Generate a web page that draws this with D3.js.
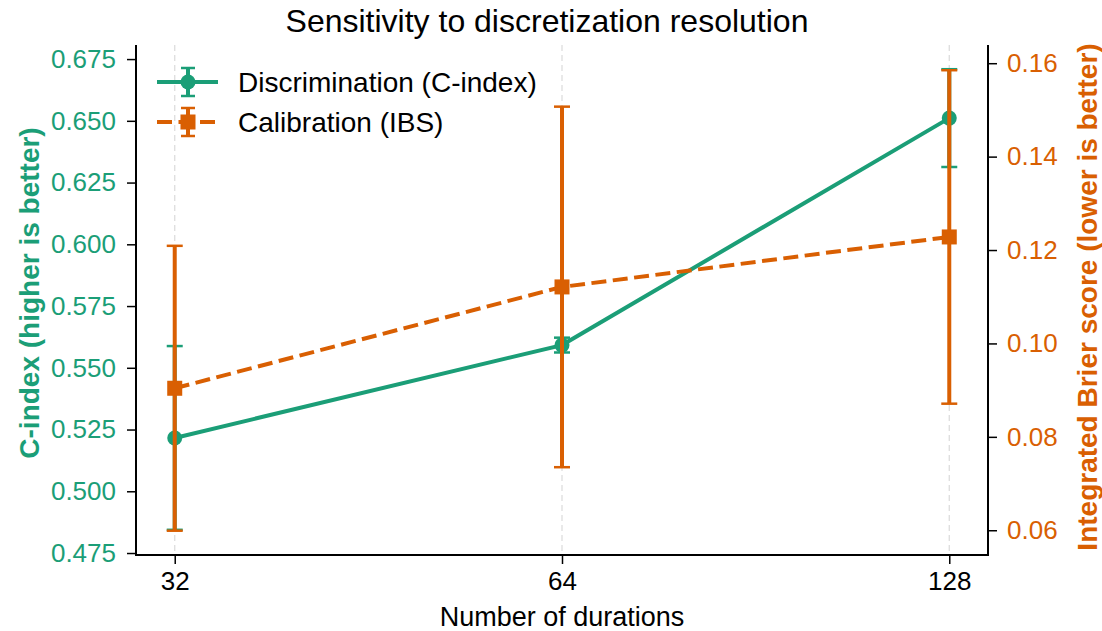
<!DOCTYPE html>
<html>
<head>
<meta charset="utf-8">
<script src="https://cdn.jsdelivr.net/npm/d3@7"></script>
<style>
  body { margin: 0; background: #fff; }
  svg { font-family: "Liberation Sans", Arial, sans-serif; }
</style>
</head>
<body>
<div id="chart"></div>
<script>
// Data
const durations = [32, 64, 128];
const cIndex = [0.5216, 0.5592, 0.6511];
const cIndexErr = [0.0372, 0.003, 0.0198];
const ibs = [0.0904, 0.1121, 0.1228];
const ibsErr = [0.0305, 0.0386, 0.0357];
const leftTicks = [0.475, 0.500, 0.525, 0.550, 0.575, 0.600, 0.625, 0.650, 0.675];
const rightTicks = [0.06, 0.08, 0.10, 0.12, 0.14, 0.16];

const green = '#1b9e77';
const orange = '#d95f02';

const width = 1102, height = 631;
const plot = { left: 136, right: 988, top: 45, bottom: 555 };

const svg = d3.select('#chart').append('svg')
  .attr('width', width)
  .attr('height', height);

const x = d3.scaleLog().base(2)
  .domain([Math.pow(2, 4.9), Math.pow(2, 7.1)])
  .range([plot.left, plot.right]);
const yL = d3.scaleLinear().domain([0.4742, 0.6807]).range([plot.bottom, plot.top]);
const yR = d3.scaleLinear().domain([0.0547, 0.1639]).range([plot.bottom, plot.top]);

// vertical grid
svg.append('g')
  .selectAll('line')
  .data(durations)
  .enter().append('line')
  .attr('x1', d => x(d)).attr('x2', d => x(d))
  .attr('y1', plot.top).attr('y2', plot.bottom)
  .attr('stroke', '#dddddd')
  .attr('stroke-width', 1.3)
  .attr('stroke-dasharray', '6,4');

// error bars helper
function errorBars(g, vals, errs, y, color) {
  const eb = g.append('g');
  durations.forEach((d, i) => {
    const cx = x(d);
    const y0 = y(vals[i] - errs[i]), y1 = y(vals[i] + errs[i]);
    eb.append('line').attr('x1', cx).attr('x2', cx).attr('y1', y0).attr('y2', y1)
      .attr('stroke', color).attr('stroke-width', 4);
    [y0, y1].forEach(yy => {
      eb.append('line').attr('x1', cx - 8).attr('x2', cx + 8).attr('y1', yy).attr('y2', yy)
        .attr('stroke', color).attr('stroke-width', 2.5);
    });
  });
}

// C-index series
const gC = svg.append('g');
errorBars(gC, cIndex, cIndexErr, yL, green);
gC.append('path')
  .datum(durations.map((d, i) => [x(d), yL(cIndex[i])]))
  .attr('d', d3.line())
  .attr('fill', 'none')
  .attr('stroke', green)
  .attr('stroke-width', 4);
gC.selectAll('circle')
  .data(durations)
  .enter().append('circle')
  .attr('cx', d => x(d))
  .attr('cy', (d, i) => yL(cIndex[i]))
  .attr('r', 7.5)
  .attr('fill', green);

// IBS series
const gI = svg.append('g');
errorBars(gI, ibs, ibsErr, yR, orange);
gI.append('path')
  .datum(durations.map((d, i) => [x(d), yR(ibs[i])]))
  .attr('d', d3.line())
  .attr('fill', 'none')
  .attr('stroke', orange)
  .attr('stroke-width', 4)
  .attr('stroke-dasharray', '15,6.5');
gI.selectAll('rect')
  .data(durations)
  .enter().append('rect')
  .attr('x', d => x(d) - 7.5)
  .attr('y', (d, i) => yR(ibs[i]) - 7.5)
  .attr('width', 15).attr('height', 15)
  .attr('fill', orange);

// axes
const fmt3 = d3.format('.3f');
const fmt2 = d3.format('.2f');

const axL = svg.append('g')
  .attr('transform', `translate(${plot.left},0)`)
  .call(d3.axisLeft(yL).tickValues(leftTicks).tickFormat(fmt3).tickSize(9).tickPadding(11));
axL.select('.domain').attr('stroke', '#000').attr('stroke-width', 2).attr('d', `M0,${plot.top}V${plot.bottom}`);
axL.selectAll('.tick line').attr('stroke', '#000').attr('stroke-width', 1.5);
axL.selectAll('.tick text').attr('fill', green).style('font-size', '26px');

const axR = svg.append('g')
  .attr('transform', `translate(${plot.right},0)`)
  .call(d3.axisRight(yR).tickValues(rightTicks).tickFormat(fmt2).tickSize(9).tickPadding(10));
axR.select('.domain').attr('stroke', '#000').attr('stroke-width', 2).attr('d', `M0,${plot.top}V${plot.bottom}`);
axR.selectAll('.tick line').attr('stroke', '#000').attr('stroke-width', 1.5);
axR.selectAll('.tick text').attr('fill', orange).style('font-size', '26px');

const axB = svg.append('g')
  .attr('transform', `translate(0,${plot.bottom})`)
  .call(d3.axisBottom(x).tickValues(durations).tickFormat(d3.format('d')).tickSize(9).tickPadding(8));
axB.select('.domain').attr('stroke', '#000').attr('stroke-width', 2).attr('d', `M${plot.left - 1},0H${plot.right + 1}`);
axB.selectAll('.tick line').attr('stroke', '#000').attr('stroke-width', 1.5);
axB.selectAll('.tick text').attr('fill', '#000').style('font-size', '26px');

// labels
svg.append('text')
  .attr('x', 547).attr('y', 32)
  .attr('text-anchor', 'middle')
  .style('font-size', '32px')
  .text('Sensitivity to discretization resolution');

svg.append('text')
  .attr('x', (plot.left + plot.right) / 2).attr('y', 626)
  .attr('text-anchor', 'middle')
  .style('font-size', '27px')
  .text('Number of durations');

svg.append('text')
  .attr('transform', `translate(39,293) rotate(-90)`)
  .attr('text-anchor', 'middle')
  .attr('fill', green)
  .style('font-size', '28px').style('font-weight', 'bold')
  .text('C-index (higher is better)');

svg.append('text')
  .attr('transform', `translate(1097,297) rotate(-90)`)
  .attr('text-anchor', 'middle')
  .attr('fill', orange)
  .style('font-size', '28px').style('font-weight', 'bold')
  .text('Integrated Brier score (lower is better)');

// legend
const legend = svg.append('g');
const legendItems = [
  { label: 'Discrimination (C-index)', color: green, marker: 'circle', dash: null, y: 82 },
  { label: 'Calibration (IBS)', color: orange, marker: 'square', dash: '15,6.5', y: 122 }
];
legendItems.forEach(it => {
  const g = legend.append('g');
  g.append('line').attr('x1', 157).attr('x2', 218).attr('y1', it.y).attr('y2', it.y)
    .attr('stroke', it.color).attr('stroke-width', 4)
    .attr('stroke-dasharray', it.dash);
  g.append('line').attr('x1', 188).attr('x2', 188).attr('y1', it.y - 14).attr('y2', it.y + 14)
    .attr('stroke', it.color).attr('stroke-width', 4);
  [it.y - 14, it.y + 14].forEach(yy => {
    g.append('line').attr('x1', 181).attr('x2', 195).attr('y1', yy).attr('y2', yy)
      .attr('stroke', it.color).attr('stroke-width', 2.5);
  });
  if (it.marker === 'circle') {
    g.append('circle').attr('cx', 188).attr('cy', it.y).attr('r', 7.5).attr('fill', it.color);
  } else {
    g.append('rect').attr('x', 180.5).attr('y', it.y - 7.5).attr('width', 15).attr('height', 15).attr('fill', it.color);
  }
  g.append('text').attr('x', 238).attr('y', it.y + 10)
    .style('font-size', '28px')
    .text(it.label);
});
</script>
</body>
</html>
